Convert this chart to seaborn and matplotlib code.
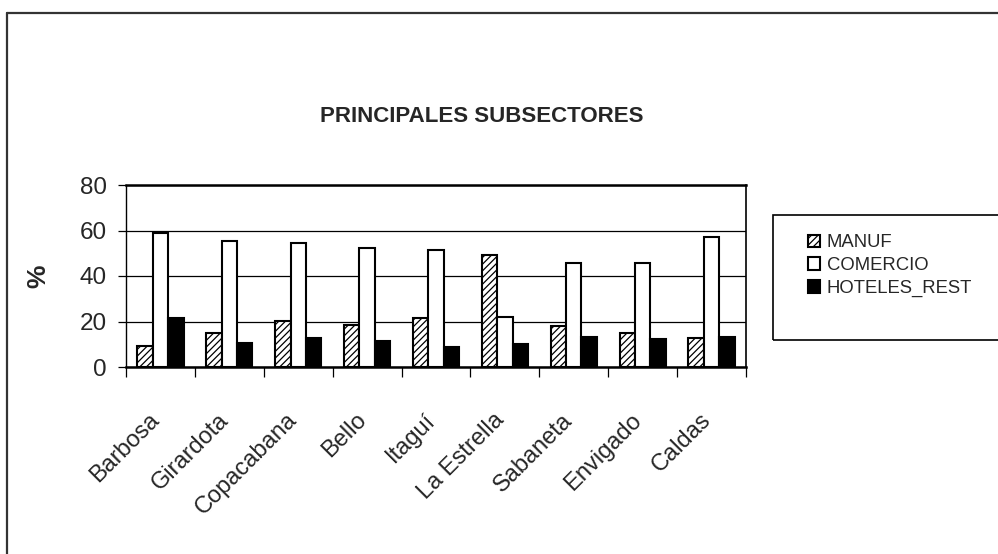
import numpy as np
import pandas as pd
import matplotlib
matplotlib.use("Agg")
import matplotlib.pyplot as plt
import seaborn as sns
from matplotlib.lines import Line2D
from matplotlib.patches import Rectangle
from matplotlib.transforms import ScaledTranslation

municipios = ["Barbosa", "Girardota", "Copacabana", "Bello", "Itaguí",
              "La Estrella", "Sabaneta", "Envigado", "Caldas"]
manuf = [9.2, 15.1, 20.1, 18.4, 21.5, 49.3, 17.9, 14.8, 12.7]
comercio = [58.7, 55.6, 54.5, 52.4, 51.3, 21.9, 45.5, 45.5, 57.2]
hoteles = [21.6, 10.5, 12.6, 11.4, 9.0, 10.2, 13.0, 12.3, 13.0]
series = ["MANUF", "COMERCIO", "HOTELES_REST"]

df = pd.DataFrame({
    "municipio": municipios * 3,
    "subsector": [series[0]] * 9 + [series[1]] * 9 + [series[2]] * 9,
    "valor": manuf + comercio + hoteles,
})

sns.set_theme(style="white")
plt.rcParams["font.family"] = ["Liberation Sans", "DejaVu Sans"]
plt.rcParams["hatch.linewidth"] = 0.9
plt.rcParams["hatch.color"] = "#444444"

W, H = 998, 554
fig = plt.figure(figsize=(W / 100, H / 100), dpi=100)
ax = fig.add_axes([126 / W, 1 - 367 / H, 620 / W, 182 / H])

sns.barplot(data=df, x="municipio", y="valor", hue="subsector",
            palette=["white", "white", "black"], width=0.67,
            edgecolor="black", linewidth=1.5, ax=ax, legend=False)

for bar in ax.containers[0]:
    bar.set_hatch("/////")

ax.set_ylim(0, 80)
ax.set_xlim(-0.5, len(municipios) - 0.5)
ax.set_yticks([0, 20, 40, 60, 80])
ax.yaxis.grid(True, color="black", linewidth=0.9)
ax.set_axisbelow(True)
for s in ["left", "bottom", "right", "top"]:
    ax.spines[s].set_visible(True)
    ax.spines[s].set_color("black")
ax.spines["left"].set_linewidth(1.0)
ax.spines["bottom"].set_linewidth(1.8)
ax.spines["top"].set_linewidth(1.8)
ax.spines["right"].set_linewidth(1.2)

ax.tick_params(axis="y", left=True, length=6, width=0.9, direction="out",
               labelsize=17.5, pad=8, color="black")
ax.set_xticks(np.arange(-0.5, len(municipios), 1.0), minor=True)
ax.tick_params(axis="x", which="minor", bottom=True, length=7, width=0.9,
               direction="out", color="black")
ax.tick_params(axis="x", which="major", bottom=False, labelsize=17, pad=10)
ax.set_xticklabels(municipios, rotation=45, ha="right", va="top",
                   rotation_mode="anchor")
offset = ScaledTranslation(-0.12, -0.2, fig.dpi_scale_trans)
for lbl in ax.get_xticklabels():
    lbl.set_transform(lbl.get_transform() + offset)

ax.set_xlabel("")
ax.set_ylabel("")
fig.text(38 / W, 1 - 276 / H, "%", rotation=90, fontsize=19,
         fontweight="bold", ha="center", va="center")
fig.text(482 / W, 1 - 117 / H, "PRINCIPALES SUBSECTORES", fontsize=16,
         fontweight="bold", ha="center", va="center")

# legend
handles = [c[0] for c in ax.containers]
leg = fig.legend(handles, series, loc="upper left",
                 bbox_to_anchor=(799 / W, 1 - 225 / H), frameon=False,
                 fontsize=13.3, handlelength=0.65, handleheight=0.65,
                 handletextpad=0.35, labelspacing=0.32, borderpad=0)
fig.patches.append(Rectangle((773 / W, 1 - 340 / H), 1.0, 125 / H,
                             transform=fig.transFigure, fill=False,
                             edgecolor="black", linewidth=1.2))

# outer chart border
fig.lines.append(Line2D([7 / W, 1.0], [1 - 13 / H, 1 - 13 / H],
                        transform=fig.transFigure, color="#333333", lw=1.6))
fig.lines.append(Line2D([7 / W, 7 / W], [0.0, 1 - 13 / H],
                        transform=fig.transFigure, color="#333333", lw=1.6))

fig.savefig("out.png", dpi=100)
